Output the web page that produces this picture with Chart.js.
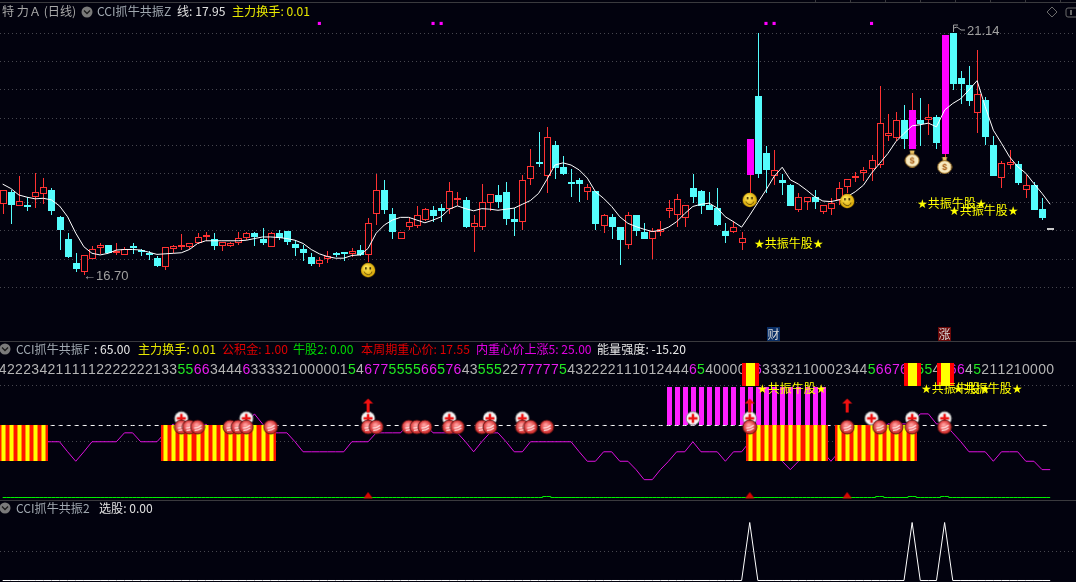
<!DOCTYPE html>
<html><head><meta charset="utf-8">
<style>html,body{margin:0;padding:0;background:#02020e;overflow:hidden}canvas{display:block}</style>
<script src="https://cdn.jsdelivr.net/npm/chart.js@4/dist/chart.umd.min.js"></script>
</head><body><canvas id="c" width="1076" height="582"></canvas>
<script>
// ---------- data ----------
const opens=[18.00,18.23,17.97,17.98,18.13,18.18,18.27,17.76,17.36,16.92,
16.76,17.00,17.19,17.26,17.10,17.07,17.23,17.16,17.11,17.01,
16.85,17.18,17.23,17.22,17.29,17.41,17.36,17.23,17.23,17.28,
17.39,17.47,17.37,17.22,17.48,17.51,17.27,17.18,17.03,16.91,
16.99,17.10,17.12,17.09,17.16,17.06,17.82,18.27,17.82,17.37,
17.59,17.61,17.71,17.89,17.93,17.92,18.08,18.08,17.59,17.59,
18.03,18.17,18.22,17.73,17.67,18.46,18.78,18.51,19.09,18.68,
18.41,18.45,18.23,18.24,17.61,17.77,17.58,17.26,17.80,17.49,
17.36,17.50,17.87,17.81,17.74,18.29,18.24,17.99,17.93,17.51,
17.50,17.29,18.54,19.99,18.94,18.52,18.44,18.35,17.90,18.04,
18.13,17.86,17.92,18.08,18.31,18.48,18.57,18.64,18.73,19.26,
19.22,19.54,19.01,19.55,19.54,19.61,18.93,21.14,20.32,20.19,
19.67,19.91,19.09,18.49,18.73,18.74,18.27,18.35,17.91,17.56];
const closes=[18.27,17.99,18.06,17.97,18.22,18.31,17.88,17.53,17.03,16.82,
17.06,17.18,17.26,17.10,17.14,17.18,17.20,17.12,17.07,16.87,
17.21,17.23,17.26,17.29,17.40,17.43,17.23,17.30,17.28,17.39,
17.47,17.40,17.29,17.48,17.39,17.31,17.20,17.11,16.90,16.97,
17.05,17.07,17.11,17.15,17.06,17.65,18.27,17.89,17.50,17.50,
17.67,17.80,17.91,17.78,17.88,18.24,18.11,17.59,17.65,18.04,
18.18,18.04,17.73,17.68,18.44,18.70,18.76,19.23,18.67,18.56,
18.38,18.38,18.31,17.64,17.80,17.58,17.34,17.80,17.51,17.37,
17.51,17.55,17.93,18.09,17.98,18.13,17.97,17.90,17.62,17.42,
17.58,17.39,19.20,18.56,18.63,18.62,18.39,17.97,18.13,18.13,
18.05,17.98,18.02,18.29,18.46,18.51,18.62,18.81,19.49,19.30,
19.54,19.20,19.73,19.47,19.61,19.13,21.11,20.20,20.20,19.90,
20.03,19.24,18.52,18.76,18.78,18.39,18.35,17.89,17.74,17.56];
const highs=[18.27,18.26,18.52,18.14,18.57,18.48,18.30,17.78,17.47,17.10,
17.06,17.23,17.28,17.26,17.28,17.21,17.29,17.18,17.14,17.05,
17.22,17.25,17.45,17.29,17.48,17.49,17.48,17.31,17.31,17.49,
17.49,17.49,17.56,17.50,17.53,17.51,17.34,17.25,17.10,17.03,
17.14,17.13,17.12,17.19,17.25,17.74,18.56,18.45,17.94,17.50,
17.77,17.97,17.94,17.96,18.00,18.41,18.22,18.13,17.80,18.38,
18.18,18.35,18.41,17.94,18.53,19.01,19.33,19.42,19.16,18.89,
18.65,18.48,18.37,18.25,17.82,17.83,17.58,17.86,17.80,17.66,
17.56,17.69,18.07,18.19,17.99,18.56,18.26,18.22,18.30,17.66,
17.70,17.49,19.20,21.14,19.07,19.00,18.56,18.38,18.20,18.13,
18.27,17.98,18.11,18.40,18.46,18.60,18.69,18.90,20.17,19.66,
19.69,19.82,20.04,19.96,19.84,19.64,21.11,21.14,20.44,20.54,
20.84,19.97,19.25,18.79,19.00,18.79,18.54,18.40,18.11,17.56];
const lows=[17.83,17.64,17.97,17.88,17.93,18.00,17.80,17.16,17.01,16.76,
16.70,17.00,17.09,17.10,17.07,17.06,17.09,17.05,16.98,16.85,
16.80,17.10,17.16,17.17,17.27,17.33,17.16,17.15,17.22,17.25,
17.34,17.23,17.25,17.21,17.34,17.25,17.05,16.96,16.87,16.85,
16.93,17.03,16.96,17.04,17.05,16.94,17.62,17.82,17.36,17.37,
17.53,17.56,17.70,17.68,17.68,17.82,17.96,17.57,17.12,17.53,
17.87,17.94,17.62,17.42,17.53,18.35,18.69,18.21,18.46,18.54,
18.13,18.04,18.08,17.53,17.47,17.36,16.88,17.17,17.42,17.37,
17.00,17.42,17.75,17.59,17.58,18.03,17.82,17.89,17.60,17.29,
17.48,17.16,18.17,18.48,18.20,18.35,18.17,17.97,17.85,17.89,
17.91,17.83,17.80,17.99,18.20,18.40,18.42,18.43,18.66,19.17,
19.16,19.02,19.01,19.07,19.28,19.02,18.87,20.09,19.84,19.80,
19.31,19.09,18.52,18.29,18.65,18.35,18.11,17.89,17.71,17.56];
const maLine=[18.37,18.29,18.17,18.13,18.10,18.11,18.08,17.97,17.77,17.47,
17.22,17.10,17.07,17.10,17.16,17.17,17.17,17.16,17.12,17.08,
17.09,17.10,17.11,17.17,17.28,17.33,17.33,17.33,17.33,17.33,
17.34,17.37,17.40,17.40,17.39,17.37,17.34,17.28,17.17,17.09,
17.04,17.01,17.01,17.06,17.07,17.19,17.47,17.62,17.71,17.76,
17.76,17.71,17.66,17.71,17.77,17.91,17.97,17.92,17.88,17.92,
17.91,17.89,17.91,17.93,18.00,18.07,18.20,18.45,18.72,18.76,
18.72,18.63,18.48,18.23,18.11,17.96,17.77,17.65,17.59,17.54,
17.50,17.52,17.58,17.68,17.83,17.96,18.00,18.02,17.93,17.77,
17.68,17.58,17.80,18.03,18.26,18.51,18.68,18.45,18.37,18.26,
18.14,18.06,18.05,18.08,18.14,18.23,18.35,18.57,18.75,18.93,
19.15,19.30,19.44,19.46,19.49,19.42,19.73,19.85,19.94,20.10,
20.27,19.79,19.36,19.12,18.87,18.69,18.57,18.38,18.20,18.00];
const magentaCandles=[92,112,116];
const priceGrid=[21.14,20.62,20.11,19.58,19.07,18.56,18.04,17.51,16.99,16.47];
const signalIdx=[39,53,54,94,95,107];
const signalLevel=21.32;
const smileIdx=[45,92,104];
const smileVal=[16.79,18.08,18.06];
const bagIdx=[112,116];
const bagVal=[18.84,18.72];

const digits=[4,2,2,2,3,4,2,1,1,1,1,1,2,2,2,2,2,2,2,1,3,3,
5,5,6,6,3,4,4,4,6,3,3,3,3,2,1,0,0,0,0,0,1,5,4,6,7,7,5,5,5,5,6,6,5,7,6,4,3,5,5,5,2,2,7,7,7,7,7,5,
4,3,2,2,2,2,1,1,1,0,1,2,4,4,4,6,5,4,0,0,0,0,0,6,3,3,3,2,1,1,0,0,0,2,3,4,4,5,6,6,7,6,6,5,5,4,5,6,6,4,5,2,1,1,2,1,0,0,0,0];
const energyLine=[50,50,50,50,50,50,50,50,41,32.5,
41,50,50,50,50,58,58,50,50,50,
58,66,58,58,58,66,58,50,50,58,
66,75,66,58,58,58,50,41,41,41,
41,41,41,50,50,50,58,58,58,58,
66,66,66,58,58,58,58,50,41,50,
58,58,50,41,41,50,50,50,50,50,
50,41,32.5,32.5,41,41,32.5,32.5,25,16,
16,25,32.5,41,41,50,41,41,41,32.5,
41,41,50,50,50,41,32.5,25,32.5,41,
41,41,32.5,41,50,50,50,58,58,66,
66,66,66,75,75,66,66,58,50,41,
41,41,32.5,41,41,41,32.5,32.5,25,25];
const midGrid=[100.4,50];
const refLevel=64.6;
const stripeRuns=[[0,5],[20,33],[92,101],[103,112]];
const stripeRange=[32.3,64.6];
const magentaRun=[82,101];
const magentaRange=[65,99];
const boxIdx=[92,112,116];
const boxRange=[100,120.4];
const plusIdx=[22,30,45,55,60,64,85,92,107,112,116];
const plusLevel=71;
const ballIdx=[22,23,24,28,29,30,33,45,46,50,51,52,55,56,59,60,64,65,67,92,104,108,110,112,116];
const ballLevel=63.2;
const arrowIdx=[45,92,104];
const arrowLevel=82.5;
const greenLine=new Array(130).fill(0);
const greenBumps=[67,108,112,116];
const greenBumpLevel=0.9;
const triIdx=[45,92,104];
const triLevel=2.2;
const pickIdx=[92,112,116];
const lowGrid=[0.5];

const headerTop=[["特 力Ａ (日线)",2,"#a8a8a8"],["CCI抓牛共振Z",97,"#a0a8b0"],["线: 17.95",177,"#e0e0e0"],["主力换手: 0.01",232,"#e8e800"]];
const headerMid=[["CCI抓牛共振F",16,"#a0a8b0"],[": 65.00",94,"#e8e8e8"],["主力换手: 0.01",138,"#e8e800"],["公积金: 1.00",222,"#e00000"],["牛股2: 0.00",293,"#00d800"],["本周期重心价: 17.55",361,"#e00000"],["内重心价上涨5: 25.00",476,"#e000e0"],["能量强度: -15.20",597,"#e8e8e8"]];
const headerLow=[["CCI抓牛共振2",16,"#a0a8b0"],["选股: 0.00",99,"#e0e0e0"]];
const tagText="★共振牛股★";
const tagsMain=[[754,244.5],[917,204.5],[949,211.5]];
const tagsMid=[[757,389.5],[921,389.5],[953,389.5]];

// ---------- sprites ----------
function sprite(w,h,fn){const c=document.createElement('canvas');c.width=w;c.height=h;fn(c.getContext('2d'),w/2,h/2);return c;}
const smile=sprite(16,16,(g,x,y)=>{const r=g.createRadialGradient(x-2,y-3,1,x,y,7.5);r.addColorStop(0,'#ffe85a');r.addColorStop(1,'#d8a400');g.fillStyle=r;g.beginPath();g.arc(x,y,7.2,0,7);g.fill();g.strokeStyle='#6a5000';g.lineWidth=1;g.beginPath();g.arc(x,y+.5,4,.25,Math.PI-.25);g.stroke();g.fillStyle='#3a2c00';g.fillRect(x-3,y-3,1.6,2.4);g.fillRect(x+1.4,y-3,1.6,2.4);});
const bag=sprite(16,18,(g,x,y)=>{g.fillStyle='#e8c060';g.beginPath();g.moveTo(x-2.5,y-8);g.lineTo(x+2.5,y-8);g.lineTo(x+1.5,y-4);g.lineTo(x-1.5,y-4);g.fill();g.fillStyle='#f8eac0';g.beginPath();g.ellipse(x,y+2,7,6.4,0,0,7);g.fill();g.strokeStyle='#a07020';g.lineWidth=1;g.stroke();g.fillStyle='#a85a10';g.font='bold 9px "Liberation Sans"';g.textAlign='center';g.textBaseline='middle';g.fillText('$',x,y+2.5);});
const ball=sprite(16,16,(g,x,y)=>{const r=g.createRadialGradient(x-1,y-2,1,x,y,7.5);r.addColorStop(0,'#ff9c9c');r.addColorStop(.6,'#e04c4c');r.addColorStop(1,'#b81818');g.fillStyle=r;g.beginPath();g.arc(x,y,7,0,7);g.fill();g.strokeStyle='#4a1414';g.lineWidth=.8;g.stroke();g.strokeStyle='rgba(255,225,225,.85)';g.lineWidth=1.4;g.beginPath();g.moveTo(x-3.5,y+1);g.quadraticCurveTo(x+1,y+1,x+4,y-2);g.stroke();g.beginPath();g.moveTo(x-3,y+3.5);g.quadraticCurveTo(x+1,y+3.5,x+4,y+1);g.stroke();});
const plus=sprite(16,16,(g,x,y)=>{g.fillStyle='#f4f4f4';g.beginPath();g.arc(x,y,6.8,0,7);g.fill();g.strokeStyle='#777';g.lineWidth=.8;g.stroke();g.fillStyle='#ee1010';g.fillRect(x-4.5,y-1.25,9,2.5);g.fillRect(x-1.25,y-4.5,2.5,9);});
const arrow=sprite(11,15,(g,x,y)=>{g.fillStyle='#f01010';g.beginPath();g.moveTo(x,y-7);g.lineTo(x+5,y-2);g.lineTo(x-5,y-2);g.fill();g.fillRect(x-1.5,y-3,3,10);});
const tri=sprite(10,7,(g,x,y)=>{g.fillStyle='#e00000';g.beginPath();g.moveTo(x,y-3);g.lineTo(x+4.5,y+3);g.lineTo(x-4.5,y+3);g.fill();});

// ---------- datasets ----------
const BG='#02020e',RED='#ff3232',CYAN='#54fcfc',MAG='#ff00ff';
const idx=opens.map((_,i)=>i);
const isMag=i=>magentaCandles.includes(i);
const col=i=>closes[i]>opens[i]?RED:closes[i]<opens[i]?CYAN:'#c8c8c8';
const pts=a=>a.map((v,i)=>({x:i,y:v}));
const at=(ix,v)=>ix.map((i,k)=>({x:i,y:Array.isArray(v)&&v.length===ix.length?v[k]:v}));
const runs=(rs,r)=>rs.flatMap(([a,b])=>{const o=[];for(let i=a;i<=b;i++)o.push({x:i,y:r});return o;});
const bar=(o)=>Object.assign({type:'bar',grouped:false,inflateAmount:0,borderSkipped:false,borderWidth:0},o);
const icon=(data,img,yAxisID)=>({type:'line',showLine:false,data,yAxisID,pointStyle:img,pointRadius:6,pointHoverRadius:6});
const list=[
 bar({data:idx.map(i=>({x:i,y:[lows[i],highs[i]]})),yAxisID:'yMain',barThickness:1,backgroundColor:idx.map(col),candle:1}),
 bar({data:idx.map(i=>({x:i,y:[opens[i],closes[i]]})),yAxisID:'yMain',barThickness:7,candle:1,borderWidth:1,
   borderColor:idx.map(i=>isMag(i)?MAG:col(i)),
   backgroundColor:idx.map(i=>isMag(i)?MAG:(closes[i]>opens[i]?BG:col(i)))}),
 {type:'line',data:pts(maLine),yAxisID:'yMain',borderColor:'#ffffff',borderWidth:1,pointRadius:0,tension:0},
 {type:'line',showLine:false,data:at(signalIdx,signalLevel),yAxisID:'yMain',pointStyle:'rect',pointRadius:2.2,backgroundColor:MAG,borderWidth:0},
 icon(at(smileIdx,smileVal),smile,'yMain'),
 icon(at(bagIdx,bagVal),bag,'yMain'),
 {type:'line',data:idx.map(i=>({x:i,y:refLevel})),yAxisID:'yMid',borderColor:'#ffffff',borderWidth:1,borderDash:[4,4],pointRadius:0},
 {type:'line',data:pts(energyLine),yAxisID:'yMid',borderColor:'#e010e0',borderWidth:1,pointRadius:0,tension:0},
 bar({data:runs([magentaRun],magentaRange),yAxisID:'yMid',barThickness:5,backgroundColor:'#ff20ff'}),
 bar({data:runs(stripeRuns,stripeRange),yAxisID:'yMid',barThickness:9,backgroundColor:'#ff1500'}),
 bar({data:runs(stripeRuns,stripeRange),yAxisID:'yMid',barThickness:5,backgroundColor:'#ff9000'}),
 bar({data:runs(stripeRuns,stripeRange),yAxisID:'yMid',barThickness:3,backgroundColor:'#ffff00'}),
 icon(at(plusIdx,plusLevel),plus,'yMid'),
 icon(at(ballIdx,ballLevel),ball,'yMid'),
 icon(at(arrowIdx,arrowLevel),arrow,'yMid'),
 bar({data:boxIdx.map(i=>({x:i,y:boxRange})),yAxisID:'yMid',barThickness:17,backgroundColor:'#ff0000'}),
 bar({data:boxIdx.map(i=>({x:i,y:boxRange})),yAxisID:'yMid',barThickness:9,backgroundColor:'#ffff00'}),
 {type:'line',stepped:'middle',data:greenLine.map((v,i)=>({x:i,y:greenBumps.includes(i)?greenBumpLevel:v})),yAxisID:'yMid',borderColor:'#00f000',borderWidth:1,pointRadius:0},
 icon(at(triIdx,triLevel),tri,'yMid'),
 {type:'line',data:idx.map(i=>({x:i,y:pickIdx.includes(i)?1:0})),yAxisID:'yLow',borderColor:'#ffffff',borderWidth:1,pointRadius:0,tension:0},
];
list.forEach((d,k)=>{d.order=-k;});

function paneAxis(min,max,weight,ticks){return {type:'linear',position:'left',stack:'panes',stackWeight:weight,min,max,
  grid:{color:'#46464e',drawTicks:false,lineWidth:1},border:{display:false,dash:[1,3]},
  ticks:{display:false},afterFit:s=>{s.width=0;},afterBuildTicks:s=>{s.ticks=ticks.map(v=>({value:v}));}};}

function text(g,s,x,y,c,f){g.font=f;g.fillStyle=c;g.textAlign='left';g.textBaseline='middle';g.fillText(s,x,y);}
const CJK='12.1px "Noto Sans CJK SC","Liberation Sans",sans-serif';
function chevron(g,x,y){g.fillStyle='#7a7a7a';g.beginPath();g.arc(x,y,5.5,0,7);g.fill();g.strokeStyle='#1a1a1a';g.lineWidth=1.3;g.beginPath();g.moveTo(x-3,y-1.5);g.lineTo(x,y+1.5);g.lineTo(x+3,y-1.5);g.stroke();}

const sharpen={id:'sharpen',afterDatasetUpdate(ch,a){
  const ds=ch.data.datasets[a.index];if(ds.type!=='bar')return;
  const m=ch.getDatasetMeta(a.index);
  m.data.forEach(el=>{el.x=Math.round(el.x)+(ds.barThickness%2?.5:0);el.y=Math.round(el.y);el.base=Math.round(el.base);
    const min=ds.candle?(ds.barThickness>1?2:1):0;if(Math.abs(el.base-el.y)<min)el.base=el.y+min;});
}};
const digitRow={id:'digitRow',beforeDatasetsDraw(ch){
  const g=ch.ctx,x=ch.scales.x;g.save();g.font='14px "Liberation Sans",sans-serif';g.textAlign='center';g.textBaseline='middle';
  digits.forEach((d,i)=>{g.fillStyle=d>=6?'#e81cf0':d===5?'#22e822':'#b4b4b4';g.fillText(String(d),x.getPixelForValue(i),370.5);});g.restore();
}};
const overlay={id:'overlay',afterDraw(ch){
  const g=ch.ctx;g.save();
  // pane rules
  g.fillStyle='#3a3a3e';g.fillRect(0,2,1076,1);g.fillRect(0,341,1076,1);g.fillRect(0,500,1076,1);
  for(const t of [815,850,885,920,955,990,1025,1060])g.fillRect(t,0,1,2);
  // headers
  headerTop.forEach(h=>text(g,h[0],h[1],11.5,h[2],CJK));
  headerMid.forEach(h=>text(g,h[0],h[1],349.5,h[2],CJK));
  headerLow.forEach(h=>text(g,h[0],h[1],508.5,h[2],CJK));
  chevron(g,87,12);chevron(g,5,349);chevron(g,5,508);
  // extreme labels
  const num='13px "Liberation Sans",sans-serif';
  text(g,"←16.70",83,276,'#a0a0a0',num);
  text(g,"21.14",967,31,'#a0a0a0',num);
  g.strokeStyle='#a0a0a0';g.lineWidth=1;g.beginPath();g.moveTo(953.5,32);g.lineTo(953.5,25);g.lineTo(958,25);g.moveTo(954,28);g.lineTo(957,27);g.lineTo(961,30);g.lineTo(965,30);g.stroke();
  // icons top right
  g.strokeStyle='#6a6a6a';g.beginPath();g.moveTo(1052,7);g.lineTo(1057,12);g.lineTo(1052,17);g.lineTo(1047,12);g.closePath();g.stroke();
  g.beginPath();g.roundRect(1066,8,14,9,2);g.stroke();g.fillStyle='#6a6a6a';g.fillRect(1070,10,2,5);
  // tags
  const tag='12px "DejaVu Sans","Noto Sans CJK SC",sans-serif';
  tagsMain.concat(tagsMid).forEach(t=>text(g,tagText,t[0],t[1],'#ffff00',tag));
  // day flags
  g.fillStyle='#0a2f66';g.fillRect(767,327,13,14);g.fillStyle='#6a0808';g.fillRect(938,327,13,14);
  const flag='12px "Noto Sans CJK SC",sans-serif';
  text(g,"财",767.5,334,'#d8d8d8',flag);text(g,"涨",938.5,334,'#d8d8d8',flag);
  g.restore();
}};

new Chart(document.getElementById('c'),{
  type:'bar',
  data:{datasets:list},
  plugins:[sharpen,digitRow,overlay],
  options:{responsive:false,animation:false,devicePixelRatio:1,
    layout:{padding:0,autoPadding:false},
    plugins:{legend:{display:false},tooltip:{enabled:false},title:{display:false}},
    events:[],
    scales:{
      x:{type:'linear',display:false,min:-0.329,max:132.18,offset:false,grid:{display:false}},
      yLow:paneAxis(-0.0259,1.388,82,lowGrid),
      yMid:paneAxis(-2.24,140.36,159,midGrid),
      yMain:paneAxis(15.49,21.75,341,priceGrid)
    }}
});
</script></body></html>
